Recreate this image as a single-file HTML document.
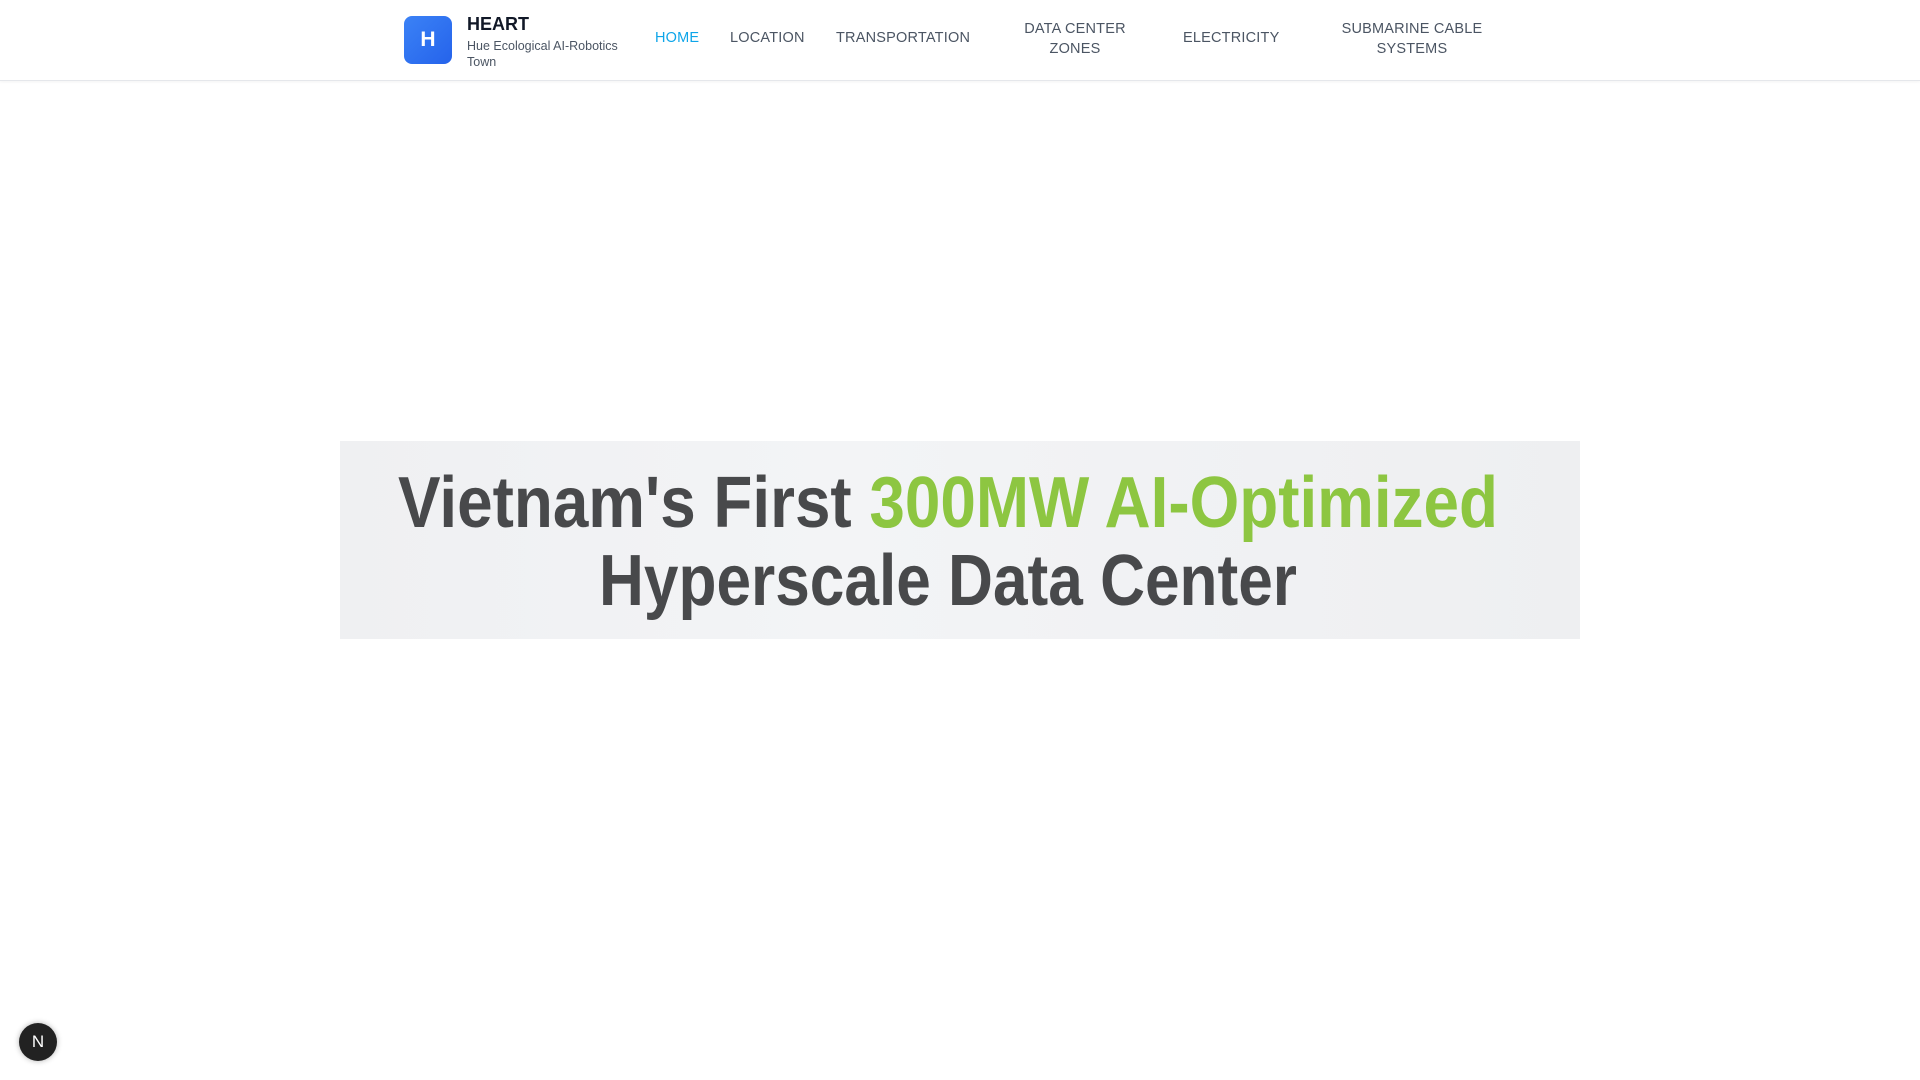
<!DOCTYPE html>
<html><head><meta charset="utf-8">
<style>
html,body{margin:0;padding:0;width:1920px;height:1080px;background:#fff;overflow:hidden;font-family:"Liberation Sans",Arial,sans-serif;}
.hdr{position:absolute;left:0;top:0;width:1920px;height:80px;border-bottom:1px solid #e5e7eb;box-shadow:0 1px 3px rgba(0,0,0,0.05);background:#fff;}
.logo{position:absolute;left:404px;top:16px;width:48px;height:48px;border-radius:8px;background:linear-gradient(135deg,#3b82f6,#2563eb);color:#fff;font-weight:bold;font-size:21px;text-align:center;line-height:48px;}
.t{position:absolute;color:#4b5563;font-size:14.5px;letter-spacing:0.2px;}
.c{text-align:center;line-height:20px;}
.banner{position:absolute;left:340px;top:441px;width:1240px;height:198px;background:linear-gradient(90deg,#eff0f2,#f3f4f6 40%,#eeeff1);}
.nb{position:absolute;left:19px;top:1023px;width:38px;height:38px;border-radius:50%;background:#222;color:#fff;font-size:17px;text-align:center;line-height:38px;box-shadow:0 0 6px rgba(0,0,0,0.3);}
</style></head><body>
<div class="hdr">
  <div class="logo">H</div>
  <div class="t" style="left:467px;top:14px;font-size:18px;font-weight:bold;color:#111827;letter-spacing:0">HEART</div>
  <div class="t" style="left:467px;top:38px;font-size:12.5px;line-height:16px;width:170px;letter-spacing:0">Hue Ecological AI-Robotics Town</div>
  <div class="t" style="left:655px;top:30px;color:#0ea5e9">HOME</div>
  <div class="t" style="left:730px;top:30px">LOCATION</div>
  <div class="t" style="left:836px;top:30px">TRANSPORTATION</div>
  <div class="t c" style="left:995px;top:19px;width:160px">DATA CENTER<br>ZONES</div>
  <div class="t" style="left:1183px;top:30px">ELECTRICITY</div>
  <div class="t c" style="left:1312px;top:19px;width:200px">SUBMARINE CABLE<br>SYSTEMS</div>
</div>
<div class="banner"></div>
<svg style="position:absolute;left:0;top:0" width="1920" height="1080">
  <text x="398" y="527" font-family="Liberation Sans, Arial, sans-serif" font-weight="bold" font-size="72" fill="#48494b" textLength="1100" lengthAdjust="spacingAndGlyphs">Vietnam's First <tspan fill="#8dc641">300MW AI-Optimized</tspan></text>
  <text x="599" y="605" font-family="Liberation Sans, Arial, sans-serif" font-weight="bold" font-size="72" fill="#48494b" textLength="698" lengthAdjust="spacingAndGlyphs">Hyperscale Data Center</text>
</svg>
<div class="nb">N</div>
</body></html>
